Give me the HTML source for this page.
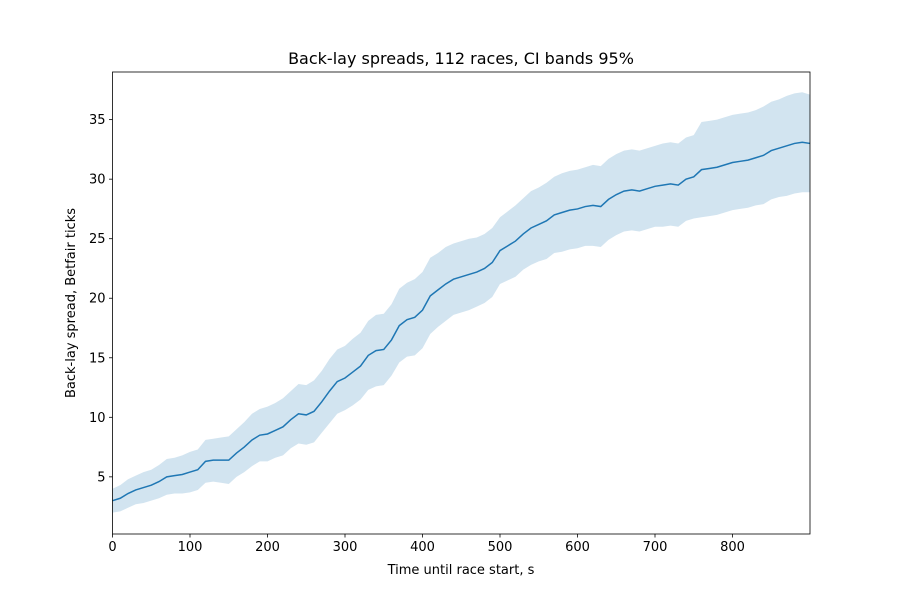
<!DOCTYPE html>
<html><head><meta charset="utf-8"><style>
body{margin:0;background:#fff;}
svg{display:block;font-family:"DejaVu Sans","Liberation Sans",sans-serif;}
</style></head><body>
<svg id="chart" width="900" height="600"></svg>
<script>
const xs = [0,10,20,30,40,50,60,70,80,90,100,110,120,130,140,150,160,170,180,190,200,210,220,230,240,250,260,270,280,290,300,310,320,330,340,350,360,370,380,390,400,410,420,430,440,450,460,470,480,490,500,510,520,530,540,550,560,570,580,590,600,610,620,630,640,650,660,670,680,690,700,710,720,730,740,750,760,770,780,790,800,810,820,830,840,850,860,870,880,890,900];
const meanSpread = [3.0,3.2,3.6,3.9,4.1,4.3,4.6,5.0,5.1,5.2,5.4,5.6,6.3,6.4,6.4,6.4,7.0,7.5,8.1,8.5,8.6,8.9,9.2,9.8,10.3,10.2,10.5,11.3,12.2,13.0,13.3,13.8,14.3,15.2,15.6,15.7,16.5,17.7,18.2,18.4,19.0,20.2,20.7,21.2,21.6,21.8,22.0,22.2,22.5,23.0,24.0,24.4,24.8,25.4,25.9,26.2,26.5,27.0,27.2,27.4,27.5,27.7,27.8,27.7,28.3,28.7,29.0,29.1,29.0,29.2,29.4,29.5,29.6,29.5,30.0,30.2,30.8,30.9,31.0,31.2,31.4,31.5,31.6,31.8,32.0,32.4,32.6,32.8,33.0,33.1,33.0];
const ciHalfWidth = [1.0,1.1,1.2,1.2,1.3,1.3,1.4,1.5,1.5,1.6,1.7,1.7,1.8,1.8,1.9,2.0,2.0,2.1,2.2,2.2,2.3,2.3,2.4,2.4,2.5,2.5,2.6,2.6,2.7,2.7,2.7,2.8,2.8,2.9,3.0,3.0,3.0,3.1,3.1,3.2,3.2,3.2,3.1,3.1,3.0,3.0,3.0,2.9,2.9,2.9,2.8,2.9,3.0,3.0,3.1,3.1,3.2,3.2,3.3,3.3,3.3,3.3,3.4,3.4,3.4,3.4,3.4,3.4,3.4,3.4,3.4,3.5,3.5,3.5,3.5,3.5,4.0,4.0,4.0,4.0,4.0,4.0,4.0,4.0,4.1,4.1,4.1,4.2,4.2,4.2,4.1];
const xTicks = [0,100,200,300,400,500,600,700,800];
const yTicks = [5,10,15,20,25,30,35];

const L=112.5,R=810,T=72,B=534;
const xMin=0,xMax=900,yMin=0.2,yMax=39.0;
const sx=v=>L+(v-xMin)/(xMax-xMin)*(R-L);
const sy=v=>B-(v-yMin)/(yMax-yMin)*(B-T);
const svg=document.getElementById('chart');
const NS='http://www.w3.org/2000/svg';
function mk(tag,attrs,parent){const e=document.createElementNS(NS,tag);for(const k in attrs)e.setAttribute(k,attrs[k]);(parent||svg).appendChild(e);return e;}

let d='';
xs.forEach((x,i)=>{d+=(i?'L':'M')+sx(x)+','+sy(meanSpread[i]+ciHalfWidth[i]);});
for(let i=xs.length-1;i>=0;i--){d+='L'+sx(xs[i])+','+sy(meanSpread[i]-ciHalfWidth[i]);}
const band=mk('path',{d:d+'Z',fill:'#1f77b4','fill-opacity':0.2,stroke:'none'});



let ld='';
xs.forEach((x,i)=>{ld+=(i?'L':'M')+sx(x)+','+sy(meanSpread[i]);});
const line=mk('path',{d:ld,fill:'none',stroke:'#1f77b4','stroke-width':1.5});



const frame=mk('rect',{x:L,y:T,width:R-L,height:B-T,fill:'none',stroke:'#000','stroke-width':0.8});



xTicks.forEach(v=>{
  const t=mk('line',{x1:sx(v),x2:sx(v),y1:B,y2:B+3.5,stroke:'#000','stroke-width':0.8});
  
  
  const tx=mk('text',{x:sx(v),y:B+17,'text-anchor':'middle','font-size':'13px'});
  tx.textContent=v;
  
  
});
yTicks.forEach(v=>{
  const t=mk('line',{x1:L-3.5,x2:L,y1:sy(v),y2:sy(v),stroke:'#000','stroke-width':0.8});
  
  
  const tx=mk('text',{x:L-7,y:sy(v)+4.5,'text-anchor':'end','font-size':'13px'});
  tx.textContent=v;
  
  
});
</script>
<svg width="0" height="0"></svg>
<div style="position:absolute;left:0;top:0;width:900px;height:600px;pointer-events:none;">
<svg width="900" height="600" style="font-family:'DejaVu Sans','Liberation Sans',sans-serif;">
<text x="461" y="64" text-anchor="middle" font-size="16px">Back-lay spreads, 112 races, CI bands 95%</text>
<text x="461" y="574" text-anchor="middle" font-size="13px">Time until race start, s</text>
<text x="75" y="303" text-anchor="middle" font-size="13px" transform="rotate(-90 75 303)">Back-lay spread, Betfair ticks</text>
</svg></div>
</body></html>
